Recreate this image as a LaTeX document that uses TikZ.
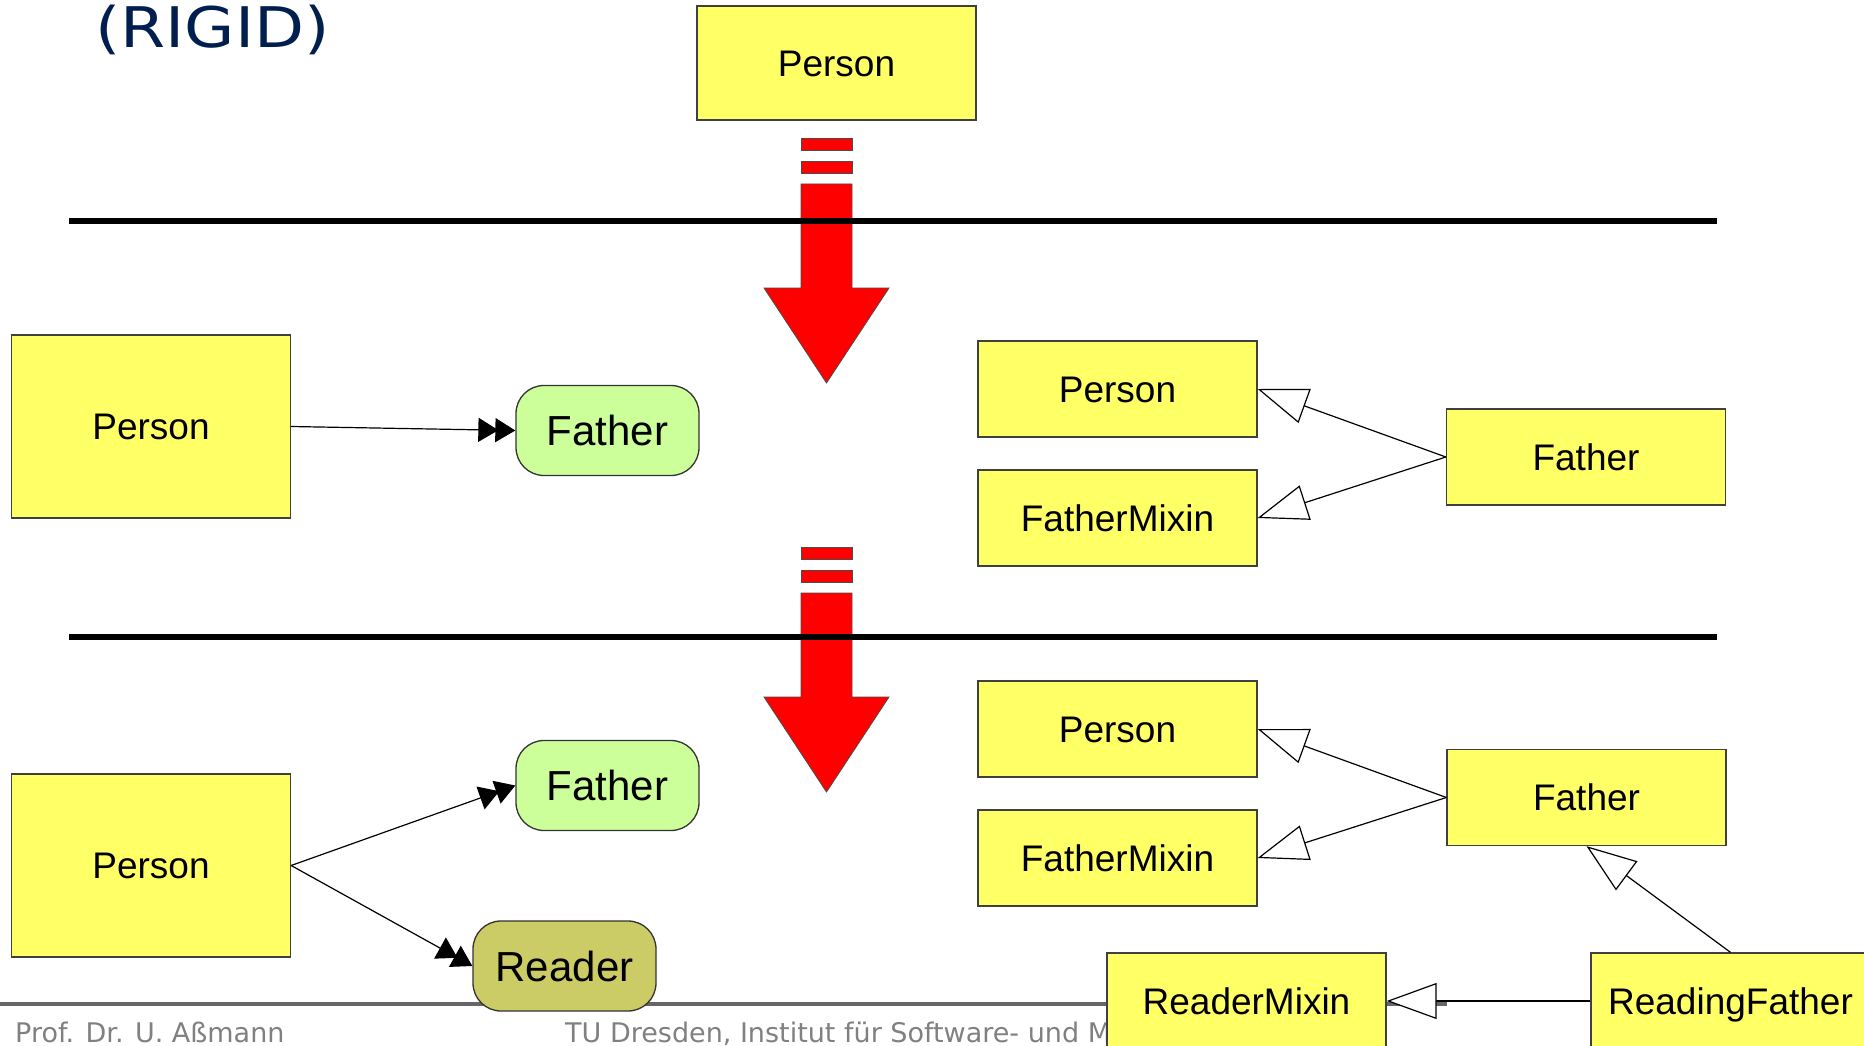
\documentclass[tikz,border=0pt]{standalone}
\usepackage{fontspec}
\usepackage{graphicx}
\setmainfont{Liberation Sans}
\newfontfamily\vfont{DejaVu Sans}
\usetikzlibrary{arrows.meta}
\definecolor{boxyellow}{HTML}{FFFF66}
\definecolor{rolegreen}{HTML}{CCFF99}
\definecolor{roleolive}{HTML}{CCCC66}
\definecolor{titleblue}{HTML}{001F4F}
\definecolor{footgray}{HTML}{808080}
\definecolor{rulegray}{HTML}{666666}

\tikzset{
  pics/descend/.style={code={
    \filldraw[fill=red, draw=black!70, line width=0.8pt] (-25.5,0) rectangle (25.5,12);
    \filldraw[fill=red, draw=black!70, line width=0.8pt] (-25.5,23) rectangle (25.5,35);
    \filldraw[fill=red, draw=black!70, line width=0.8pt]
      (-25.5,46) -- (-25.5,150) -- (-62.5,150) -- (0,245) -- (62.5,150)
      -- (25.5,150) -- (25.5,46) -- cycle;
  }}
}

\begin{document}
\begin{tikzpicture}[x=1pt,y=-1pt,
  classbox/.style={draw=black!75, line width=1.3pt, fill=boxyellow,
    minimum width=279pt, minimum height=96pt, inner sep=0pt,
    text height=26.5pt, text depth=0pt,
    font=\fontsize{37}{44}\selectfont},
  bigbox/.style={classbox, minimum height=183pt},
  role/.style={draw=black!80, line width=1.3pt, rounded corners=28pt,
    minimum width=183pt, minimum height=90pt, inner sep=0pt,
    text height=30pt, text depth=0pt,
    font=\fontsize{42}{50}\selectfont},
  plays/.style={line width=1.2pt,
    -{Triangle[length=20pt,width=24pt,sep=-3pt]Triangle[length=20pt,width=24pt]}},
  inherits/.style={line width=1.2pt,
    -{Triangle[open,fill=white,length=50pt,width=36pt,line width=1.2pt]}},
  level/.style={line width=6pt},
  footer/.style={anchor=base west, inner sep=0pt, text=footgray,
    font={\vfont\fontsize{27}{32}\selectfont}}
]
\clip (0,0) rectangle (1864,1046);
\useasboundingbox (0,0) rectangle (1864,1046);

% title
\node[anchor=base west, inner sep=0pt, text=titleblue,
  font={\vfont\fontsize{56}{66}\selectfont}] (title) at (95,48)
  {\scalebox{1.16}[1]{(RIGID)}};

% refinement arrows crossing the level lines
\pic at (826.5,138) {descend};
\pic at (826.5,547) {descend};

% level separators
\draw[level] (69,221) -- (1717,221);
\draw[level] (69,637) -- (1717,637);

% footer rule and texts
\draw[rulegray, line width=4.5pt] (0,1004) -- (1447,1004);
\node[footer] (author) at (15,1042) {Prof. Dr. U. Aßmann};
\node[footer] (inst) at (565,1042) {TU Dresden, Institut für Software- und M};

% top level
\node[classbox, minimum height=114pt] (topP) at (836.5,63) {Person};

% middle level
\node[bigbox] (midP) at (151,426.5) {Person};
\node[role, fill=rolegreen] (midF) at (607.5,430.5) {Father};
\node[classbox] (rP1) at (1117.5,389) {Person};
\node[classbox] (rFM1) at (1117.5,518) {FatherMixin};
\node[classbox] (rF1) at (1586,457) {Father};

% bottom level
\node[bigbox] (botP) at (151,865.5) {Person};
\node[role, fill=rolegreen] (botF) at (607.5,785.5) {Father};
\node[role, fill=roleolive] (reader) at (564.5,966) {Reader};
\node[classbox] (rP2) at (1117.5,729) {Person};
\node[classbox] (rFM2) at (1117.5,858) {FatherMixin};
\node[classbox] (rF2) at (1586.5,797.5) {Father};
\node[classbox] (rMix) at (1246.5,1001) {ReaderMixin};
\node[classbox] (rRF) at (1730.5,1001) {ReadingFather};

% role-playing connectors
\draw[plays] (midP.east) -- (midF.west);
\draw[plays] (botP.east) -- (botF.west);
\draw[plays] (botP.east) -- (reader.west);

% inheritance connectors
\draw[inherits] (rF1.west) -- (rP1.east);
\draw[inherits] (rF1.west) -- (rFM1.east);
\draw[inherits] (rF2.west) -- (rP2.east);
\draw[inherits] (rF2.west) -- (rFM2.east);
\draw[inherits] (rRF.north) -- (rF2.south);
\draw[inherits] (rRF.west) -- (rMix.east);
\end{tikzpicture}
\end{document}
